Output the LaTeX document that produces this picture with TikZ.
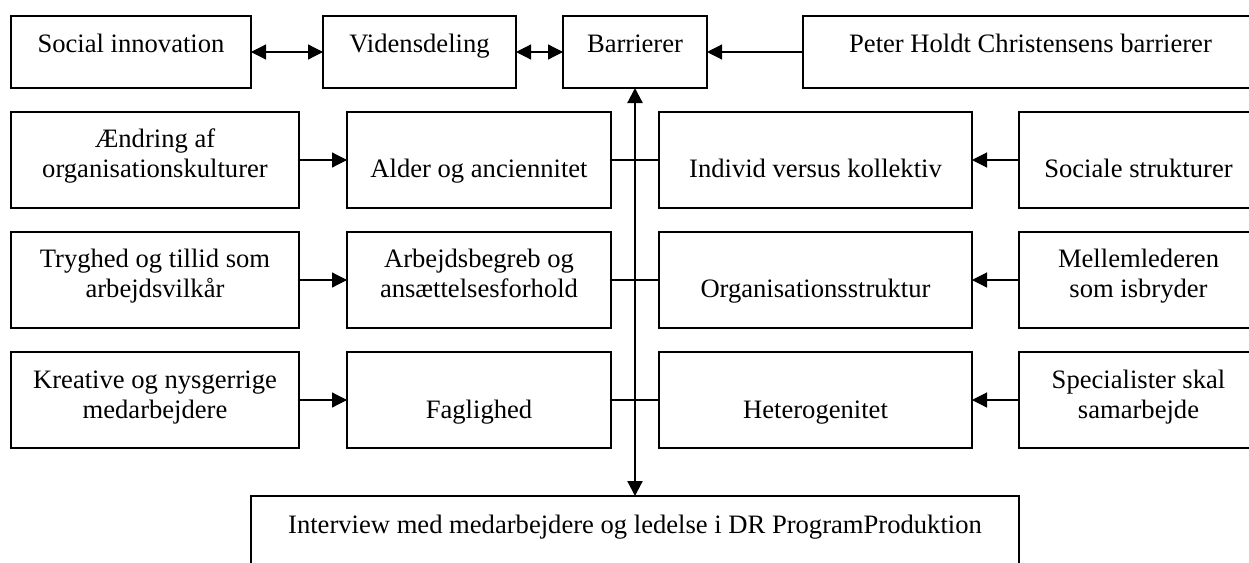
\documentclass[tikz,border=0pt]{standalone}
\usepackage{fontspec}
\setmainfont{Liberation Serif}
\usetikzlibrary{arrows.meta}
\tikzset{
  box/.style={draw, line width=1.2pt, rectangle, inner sep=0pt, outer sep=0pt},
  txt/.style={anchor=base, inner sep=0pt, font=\fontsize{26.6}{30}\selectfont},
  conn/.style={line width=1.2pt},
  tip/.style={-{Triangle[length=15pt,width=15pt]}},
  dtip/.style={{Triangle[length=15pt,width=15pt]}-{Triangle[length=15pt,width=15pt]}},
}
\begin{document}
\begin{tikzpicture}[x=1pt,y=-1pt]
\useasboundingbox (0,0) rectangle (1249,562);
\fill[white] (0,0) rectangle (1249,562);
\clip (0,0) rectangle (1249,562);
% row 1
\node[box, minimum width=240pt, minimum height=72pt] (soc) at (131,52) {};
\node[box, minimum width=193pt, minimum height=72pt] (vid) at (419.5,52) {};
\node[box, minimum width=144pt, minimum height=72pt] (bar) at (635,52) {};
\node[box, minimum width=455pt, minimum height=72pt] (pet) at (1030.5,52) {};
\node[txt] (soc-t) at (131,52) {Social innovation};
\node[txt] (vid-t) at (419.5,52) {Vidensdeling};
\node[txt] (bar-t) at (635,52) {Barrierer};
\node[txt] (pet-t) at (1030.5,52) {Peter Holdt Christensens barrierer};
% row 2
\node[box, minimum width=288pt, minimum height=96pt] (aend) at (155,160) {};
\node[box, minimum width=264pt, minimum height=96pt] (alder) at (479,160) {};
\node[box, minimum width=313pt, minimum height=96pt] (indiv) at (815.5,160) {};
\node[box, minimum width=239pt, minimum height=96pt] (soci) at (1138.5,160) {};
\node[txt] (aend-t1) at (155,147) {Ændring af};
\node[txt] (aend-t2) at (155,177) {organisationskulturer};
\node[txt] (alder-t) at (479,177) {Alder og anciennitet};
\node[txt] (indiv-t) at (815.5,177) {Individ versus kollektiv};
\node[txt] (soci-t) at (1138.5,177) {Sociale strukturer};
% row 3
\node[box, minimum width=288pt, minimum height=96pt] (tryg) at (155,280) {};
\node[box, minimum width=264pt, minimum height=96pt] (arb) at (479,280) {};
\node[box, minimum width=313pt, minimum height=96pt] (org) at (815.5,280) {};
\node[box, minimum width=239pt, minimum height=96pt] (mel) at (1138.5,280) {};
\node[txt] (tryg-t1) at (155,267) {Tryghed og tillid som};
\node[txt] (tryg-t2) at (155,297) {arbejdsvilkår};
\node[txt] (arb-t1) at (479,267) {Arbejdsbegreb og};
\node[txt] (arb-t2) at (479,297) {ansættelsesforhold};
\node[txt] (org-t) at (815.5,297) {Organisationsstruktur};
\node[txt] (mel-t1) at (1138.5,267) {Mellemlederen};
\node[txt] (mel-t2) at (1138.5,297) {som isbryder};
% row 4
\node[box, minimum width=288pt, minimum height=96pt] (krea) at (155,400) {};
\node[box, minimum width=264pt, minimum height=96pt] (fag) at (479,400) {};
\node[box, minimum width=313pt, minimum height=96pt] (het) at (815.5,400) {};
\node[box, minimum width=239pt, minimum height=96pt] (spec) at (1138.5,400) {};
\node[txt] (krea-t1) at (155,388) {Kreative og nysgerrige};
\node[txt] (krea-t2) at (155,418) {medarbejdere};
\node[txt] (fag-t) at (479,418) {Faglighed};
\node[txt] (het-t) at (815.5,418) {Heterogenitet};
\node[txt] (spec-t1) at (1138.5,388) {Specialister skal};
\node[txt] (spec-t2) at (1138.5,418) {samarbejde};
% bottom
\node[box, minimum width=768pt, minimum height=104pt] (bot) at (635,548) {};
\node[txt] (bot-t) at (635,533) {Interview med medarbejdere og ledelse i DR ProgramProduktion};
% connectors
\draw[conn, dtip] (soc) -- (vid);
\draw[conn, dtip] (vid) -- (bar);
\draw[conn, tip] (pet) -- (bar);
\draw[conn, tip] (aend) -- (alder);
\draw[conn, tip] (soci) -- (indiv);
\draw[conn, tip] (tryg) -- (arb);
\draw[conn, tip] (mel) -- (org);
\draw[conn, tip] (krea) -- (fag);
\draw[conn, tip] (spec) -- (het);
\draw[conn] (alder.east) -- (indiv.west);
\draw[conn] (arb.east) -- (org.west);
\draw[conn] (fag.east) -- (het.west);
\draw[line width=2.2pt, dtip] (bar.south) -- (bot.north);
\end{tikzpicture}
\end{document}
